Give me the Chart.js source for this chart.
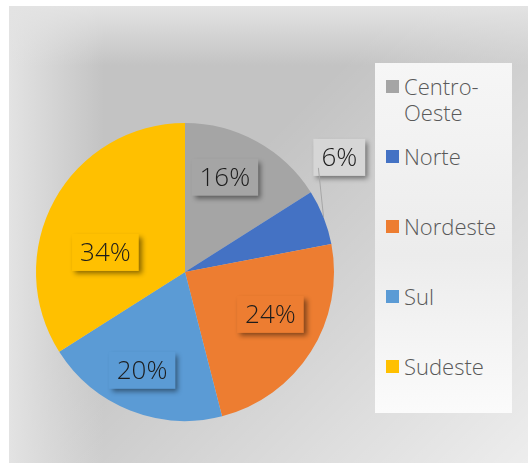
<!DOCTYPE html>
<html>
<head>
<meta charset="utf-8">
<script src="https://cdn.jsdelivr.net/npm/chart.js@4/dist/chart.umd.min.js"></script>
<style>
  html, body { margin: 0; padding: 0; background: #fff; }
  #wrap { position: relative; width: 528px; height: 463px; overflow: hidden; }
  #bg {
    position: absolute; left: 9px; top: 6px; right: 0; bottom: 0;
    background:
      linear-gradient(to bottom, #e3e3e3 0px, rgba(227,227,227,0) 60px),
      linear-gradient(to right, #e3e3e3 0px, rgba(227,227,227,0) 95px),
      linear-gradient(135deg, rgba(255,255,255,0) 40%, rgba(255,255,255,0.7) 100%),
      #c3c3c3;
  }
  #chart { position: absolute; left: 0; top: 0; }
  #legend {
    position: absolute; left: 375px; top: 63px; width: 137px; height: 350px;
    background: linear-gradient(to bottom, #f6f6f6 0%, #ececec 55%, #fbfbfb 100%);
    box-sizing: border-box; padding-top: 10px;
    font-family: "Open Sans", "Noto Sans", sans-serif; font-weight: 300;
    font-size: 22px; line-height: 26px; color: #595959;
  }
  .item { display: flex; align-items: flex-start; height: 70px; padding-left: 11px; }
  .sw { width: 13px; height: 13px; margin-top: 7px; margin-right: 5px; flex: none; }
  .txt { width: 105px; }
</style>
</head>
<body>
<div id="wrap">
  <div id="bg"></div>
  <canvas id="chart" width="528" height="463"></canvas>
  <div id="legend"></div>
</div>
<script>
const regions = ["Centro-Oeste", "Norte", "Nordeste", "Sul", "Sudeste"];
const shares = [16, 6, 24, 20, 34];
const sliceColors = ["#A5A5A5", "#4472C4", "#ED7D31", "#5B9BD5", "#FFC000"];

// label placement relative to each slice: fraction of radius, angle shift (deg)
const labelPlace = [
  { r: 0.69, da: -6 },
  { r: 1.29, da: -15, outside: true },
  { r: 0.64, da: -6 },
  { r: 0.72, da: 2 },
  { r: 0.55, da: -15 }
];

// legend
const legend = document.getElementById("legend");
regions.forEach((name, i) => {
  const row = document.createElement("div");
  row.className = "item";
  row.innerHTML = `<span class="sw" style="background:${sliceColors[i]}"></span><span class="txt">${name}</span>`;
  legend.appendChild(row);
});

const pieLabels = {
  id: "pieLabels",
  afterDatasetsDraw(chart) {
    const ctx = chart.ctx;
    const arcs = chart.getDatasetMeta(0).data;
    ctx.save();
    ctx.font = "300 26px 'Open Sans', 'Noto Sans', sans-serif";
    ctx.textAlign = "center";
    ctx.textBaseline = "middle";
    arcs.forEach((arc, i) => {
      const p = arc.getProps(["x", "y", "startAngle", "endAngle", "outerRadius"], true);
      const mid = (p.startAngle + p.endAngle) / 2;
      const pl = labelPlace[i];
      const a = mid + pl.da * Math.PI / 180;
      const cx = p.x + Math.cos(a) * p.outerRadius * pl.r;
      const cy = p.y + Math.sin(a) * p.outerRadius * pl.r;
      const text = shares[i] + "%";
      const w = ctx.measureText(text).width + 16;
      const h = 37;
      const left = cx - w / 2, top = cy - h / 2;

      ctx.shadowColor = "rgba(0,0,0,0.45)";
      ctx.shadowBlur = 5;
      ctx.shadowOffsetX = 3;
      ctx.shadowOffsetY = 3;
      ctx.fillStyle = pl.outside ? "#d6d6d6" : sliceColors[i];
      ctx.fillRect(left, top, w, h);
      ctx.shadowColor = "rgba(0,0,0,0)";

      if (pl.outside) {
        const ex = p.x + Math.cos(mid) * p.outerRadius;
        const ey = p.y + Math.sin(mid) * p.outerRadius;
        ctx.strokeStyle = "#a6a6a6";
        ctx.lineWidth = 1;
        ctx.beginPath();
        ctx.moveTo(ex, ey);
        ctx.lineTo(left + 5, top + h - 8);
        ctx.stroke();
      }

      ctx.fillStyle = "#1c1c1c";
      ctx.fillText(text, cx, cy + 1);
    });
    ctx.restore();
  }
};

new Chart(document.getElementById("chart").getContext("2d"), {
  type: "pie",
  data: {
    labels: regions,
    datasets: [{
      data: shares,
      backgroundColor: sliceColors,
      borderWidth: 0
    }]
  },
  options: {
    responsive: false,
    animation: false,
    layout: { padding: { left: 36, right: 194, top: 123, bottom: 42 } },
    plugins: {
      legend: { display: false },
      tooltip: { enabled: false }
    }
  },
  plugins: [pieLabels]
});
</script>
</body>
</html>
